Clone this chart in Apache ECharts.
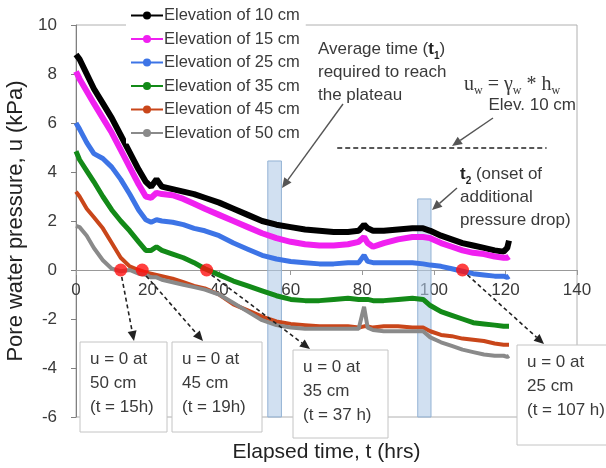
<!DOCTYPE html>
<html>
<head>
<meta charset="utf-8">
<script src="https://cdn.jsdelivr.net/npm/echarts@6/dist/echarts.min.js"></script>
<style>
  html, body { margin: 0; padding: 0; background: #fff; }
  #main { width: 606px; height: 468px; }
</style>
</head>
<body>
<div id="main"></div>
<script>
// elapsed time (hrs)
const hours = [0, 1, 3, 5, 7.5, 10, 12.5, 15, 17.5, 19.5, 21, 22.5, 24, 27, 30, 33, 36, 40, 44, 48,
  52, 56, 60, 64, 68, 72, 76, 79, 80.5, 81.5, 83, 86, 90, 94, 97, 99, 102, 105, 108, 111,
  114, 117, 119.5, 120.5, 121]

// pore water pressure (kPa) per sensor elevation
const elev10 = [8.8, 8.6, 8.0, 7.4, 6.8, 6.2, 5.5, 4.8, 4.1, 3.6, 3.4, 3.7, 3.4, 3.3, 3.2, 3.1, 2.95, 2.75, 2.5, 2.25,
  2.0, 1.85, 1.75, 1.65, 1.6, 1.55, 1.55, 1.6, 1.85, 1.7, 1.6, 1.6, 1.65, 1.7, 1.7, 1.6, 1.4, 1.25, 1.1, 1.0,
  0.9, 0.8, 0.75, 0.9, 1.2]
const elev15 = [8.1, 7.8, 7.3, 6.8, 6.2, 5.6, 4.9, 4.2, 3.5, 3.0, 2.95, 3.15, 3.1, 3.05, 2.9, 2.7, 2.5, 2.25, 2.0, 1.75,
  1.5, 1.3, 1.15, 1.05, 1.0, 1.0, 1.05, 1.15, 1.35, 1.1, 0.95, 1.1, 1.25, 1.35, 1.35, 1.3, 1.1, 0.95, 0.8, 0.7,
  0.65, 0.55, 0.5, 0.5, 0.55]
const elev25 = [6.0, 5.75, 5.2, 4.75, 4.55, 4.2, 3.7, 3.1, 2.45, 2.05, 1.95, 2.05, 2.0, 1.95, 1.85, 1.7, 1.6, 1.4, 1.1, 0.85,
  0.6, 0.45, 0.35, 0.3, 0.25, 0.25, 0.3, 0.3, 0.6, 0.35, 0.3, 0.3, 0.3, 0.3, 0.25, 0.2, 0.15, 0.05, -0.05, -0.15,
  -0.2, -0.25, -0.25, -0.3, -0.25]
const elev35 = [4.85, 4.5, 4.05, 3.6, 3.0, 2.45, 2.0, 1.6, 1.15, 0.8, 0.8, 0.95, 0.8, 0.65, 0.5, 0.3, 0.05, -0.2, -0.45, -0.65,
  -0.85, -1.05, -1.2, -1.25, -1.25, -1.2, -1.15, -1.2, -1.2, -1.2, -1.25, -1.25, -1.2, -1.15, -1.2, -1.45, -1.7, -1.85, -2.0, -2.15,
  -2.2, -2.25, -2.3, -2.3, -2.3]
const elev45 = [3.2, 3.0, 2.5, 2.15, 1.7, 1.1, 0.5, 0.15, 0.0, -0.1, -0.15, -0.2, -0.25, -0.35, -0.5, -0.65, -0.75, -1.0, -1.4, -1.65,
  -1.9, -2.1, -2.2, -2.25, -2.3, -2.3, -2.3, -2.35, -2.3, -2.3, -2.35, -2.3, -2.3, -2.35, -2.35, -2.5, -2.65, -2.7, -2.8, -2.85,
  -2.9, -3.0, -3.05, -3.05, -3.05]
const elev50 = [1.8, 1.75, 1.4, 0.9, 0.4, 0.05, -0.05, 0.0, -0.15, -0.2, -0.3, -0.3, -0.4, -0.5, -0.6, -0.7, -0.8, -1.0, -1.35, -1.7,
  -2.05, -2.25, -2.35, -2.4, -2.4, -2.4, -2.4, -2.4, -1.5, -2.35, -2.45, -2.5, -2.5, -2.5, -2.5, -2.75, -2.95, -3.1, -3.25, -3.35,
  -3.45, -3.5, -3.5, -3.55, -3.5]

// times where u = 0 is reached (red dots)
const zeroT = [12.5, 18.5, 36.5, 108]
const zeroU = [0, 0, 0, 0]

const xTicks = [0, 20, 40, 60, 80, 100, 120, 140]
const yTicks = [-6, -4, -2, 0, 2, 4, 6, 8, 10]

const seriesNames = ['Elevation of 10 cm', 'Elevation of 15 cm', 'Elevation of 25 cm',
  'Elevation of 35 cm', 'Elevation of 45 cm', 'Elevation of 50 cm']
const seriesValues = [elev10, elev15, elev25, elev35, elev45, elev50]
const seriesColors = ['#000000', '#f020f0', '#3d74e6', '#138a18', '#c9461a', '#8a8a8a']
const seriesWidths = [6, 6, 5, 5, 4, 4]

const FONT = 'Arial, "Liberation Sans", sans-serif'
const TXT = '#3a3a3a'

const chart = echarts.init(document.getElementById('main'))

const lineSeries = seriesNames.map((name, i) => ({
  name: name,
  type: 'line',
  data: hours.map((t, k) => [t, seriesValues[i][k]]),
  symbol: 'circle',
  symbolSize: 4,
  showSymbol: false,
  smooth: false,
  lineStyle: { color: seriesColors[i], width: seriesWidths[i] },
  itemStyle: { color: seriesColors[i] },
  z: 2
}))

chart.setOption({
  animation: false,
  textStyle: { fontFamily: FONT },
  grid: {
    left: 76,
    right: 29,
    top: 25,
    bottom: 51,
    containLabel: false,
    outerBoundsMode: 'none',
    show: true,
    borderColor: '#b0b0b0',
    borderWidth: 1
  },
  legend: {
    data: seriesNames,
    orient: 'vertical',
    left: 126,
    top: 5,
    padding: [2, 6, 2, 4],
    itemGap: 6.5,
    itemWidth: 32,
    itemHeight: 10,
    backgroundColor: '#ffffff',
    textStyle: { fontSize: 16.5, color: TXT, fontFamily: FONT, padding: [0, 0, 0, -4] }
  },
  xAxis: {
    type: 'value',
    min: 0,
    max: 140,
    interval: 20,
    position: 'bottom',
    offset: -147, // sit the axis on u = 0
    name: 'Elapsed time, t (hrs)',
    nameLocation: 'middle',
    nameGap: 172,
    nameTextStyle: { fontSize: 21, color: '#222' },
    axisLine: { onZero: false, lineStyle: { color: '#999' } },
    axisTick: { show: true, length: 5, lineStyle: { color: '#999' } },
    axisLabel: {
      fontSize: 17,
      color: TXT,
      margin: 12,
      formatter: v => (xTicks.indexOf(v) >= 0 ? String(v) : '')
    },
    splitLine: { show: false }
  },
  yAxis: {
    type: 'value',
    min: -6,
    max: 10,
    interval: 2,
    name: 'Pore water pressure, u (kPa)',
    nameLocation: 'middle',
    nameGap: 39,
    nameTextStyle: { fontSize: 22, color: '#222' },
    axisLine: { show: true, lineStyle: { color: '#808080' } },
    axisTick: { show: true, length: 5, lineStyle: { color: '#808080' } },
    axisLabel: {
      fontSize: 17,
      color: TXT,
      margin: 19,
      formatter: v => (yTicks.indexOf(v) >= 0 ? String(v) : '')
    },
    splitLine: { show: false }
  },
  series: lineSeries.concat([
    {
      // shaded time windows t1 and t2, plus the u_w reference line
      name: 'marks',
      type: 'line',
      data: [],
      z: 4,
      markArea: {
        silent: true,
        itemStyle: {
          color: 'rgba(178, 204, 232, 0.6)',
          borderColor: '#93b2d4',
          borderWidth: 1
        },
        data: [
          [{ coord: [53.6, 4.45] }, { coord: [57.4, -6] }],
          [{ coord: [95.5, 2.9] }, { coord: [99.2, -6] }]
        ]
      },
      markLine: {
        silent: true,
        symbol: ['none', 'none'],
        label: { show: false },
        lineStyle: { color: '#222', type: [5, 3], width: 1.5 },
        data: [[{ coord: [73, 5] }, { coord: [131.5, 5] }]]
      }
    },
    {
      name: 'u = 0',
      type: 'scatter',
      data: zeroT.map((t, i) => [t, zeroU[i]]),
      symbol: 'circle',
      symbolSize: 13,
      itemStyle: { color: '#ff1010' },
      z: 6
    }
  ])
})

// ---- annotations (boxes, notes, arrows) ----
function arrow(x1, y1, x2, y2, dashed) {
  const ang = Math.atan2(y2 - y1, x2 - x1)
  const L = 10, W = 4.5
  const bx = x2 - L * Math.cos(ang), by = y2 - L * Math.sin(ang)
  const nx = -Math.sin(ang) * W, ny = Math.cos(ang) * W
  return [
    {
      type: 'line',
      shape: { x1: x1, y1: y1, x2: bx, y2: by },
      style: { stroke: dashed ? '#222' : '#555', lineWidth: dashed ? 1.6 : 1.4, lineDash: dashed ? [4, 3] : null },
      z: 10
    },
    {
      type: 'polygon',
      shape: { points: [[x2, y2], [bx + nx, by + ny], [bx - nx, by - ny]] },
      style: { fill: dashed ? '#222' : '#555' },
      z: 10
    }
  ]
}

function box(x, y, w, h, lines) {
  return [
    {
      type: 'rect',
      shape: { x: x, y: y, width: w, height: h },
      style: { fill: '#fff', stroke: '#c4c4c4', lineWidth: 1 },
      z: 8
    },
    {
      type: 'text',
      x: x + 10,
      y: y + 5,
      style: { text: lines.join('\n'), font: '17px ' + FONT, fill: TXT, lineHeight: 24 },
      z: 9
    }
  ]
}

const px = (t, u) => chart.convertToPixel({ gridIndex: 0 }, [t, u])
const d = zeroT.map((t, i) => px(t, zeroU[i]))

let g = []
g = g.concat(box(80, 342, 87, 90, ['u = 0 at', '50 cm', '(t = 15h)']))
g = g.concat(box(172, 342, 90, 90, ['u = 0 at', '45 cm', '(t = 19h)']))
g = g.concat(box(293, 350, 95, 88, ['u = 0 at', '35 cm', '(t = 37 h)']))
g = g.concat(box(517, 345, 110, 100, ['u = 0 at', '25 cm', '(t = 107 h)']))

g = g.concat(arrow(d[0][0] + 1, d[0][1] + 7, 134, 341, true))
g = g.concat(arrow(d[1][0] + 4, d[1][1] + 6, 203, 341, true))
g = g.concat(arrow(d[2][0] + 5, d[2][1] + 5, 310, 349, true))
g = g.concat(arrow(d[3][0] + 5, d[3][1] + 5, 544, 344, true))

g = g.concat(arrow(343, 104, 282, 188, false))
g = g.concat(arrow(493, 118, 452, 146, false))
g = g.concat(arrow(457, 188, 432, 210, false))

g.push({
  type: 'text',
  x: 318,
  y: 38,
  style: {
    text: '{n|Average time (}{b|t}{s|1}{n|)}\n{n|required to reach}\n{n|the plateau}',
    font: '17px ' + FONT,
    fill: TXT,
    lineHeight: 23,
    rich: {
      n: { fontSize: 17, fontFamily: FONT, fill: TXT, lineHeight: 23 },
      b: { fontSize: 17, fontFamily: FONT, fontWeight: 'bold', fill: '#222', lineHeight: 23 },
      s: { fontSize: 10, fontFamily: FONT, fontWeight: 'bold', fill: '#222', verticalAlign: 'bottom', lineHeight: 18 }
    }
  },
  z: 9
})

const SERIF = '"Liberation Serif", "DejaVu Serif", serif'
g.push({
  type: 'text',
  x: 464,
  y: 73,
  style: {
    text: '{m|u}{s|w}{m| = γ}{s|w}{m| * h}{s|w}',
    rich: {
      m: { fontSize: 20, fontFamily: SERIF, fill: TXT, lineHeight: 24 },
      s: { fontSize: 12, fontFamily: SERIF, fill: TXT, verticalAlign: 'bottom', lineHeight: 17 }
    }
  },
  z: 9
})
g.push({
  type: 'text',
  x: 576,
  y: 97,
  style: { text: 'Elev. 10 cm', font: '17px ' + FONT, fill: TXT, align: 'right' },
  z: 9
})

g.push({
  type: 'text',
  x: 460,
  y: 163,
  style: {
    text: '{b|t}{s|2}{n| (onset of}\n{n|additional}\n{n|pressure drop)}',
    font: '17px ' + FONT,
    fill: TXT,
    lineHeight: 23,
    rich: {
      n: { fontSize: 17, fontFamily: FONT, fill: TXT, lineHeight: 23 },
      b: { fontSize: 17, fontFamily: FONT, fontWeight: 'bold', fill: '#222', lineHeight: 23 },
      s: { fontSize: 10, fontFamily: FONT, fontWeight: 'bold', fill: '#222', verticalAlign: 'bottom', lineHeight: 18 }
    }
  },
  z: 9
})

chart.setOption({ graphic: { elements: g } })
</script>
</body>
</html>
